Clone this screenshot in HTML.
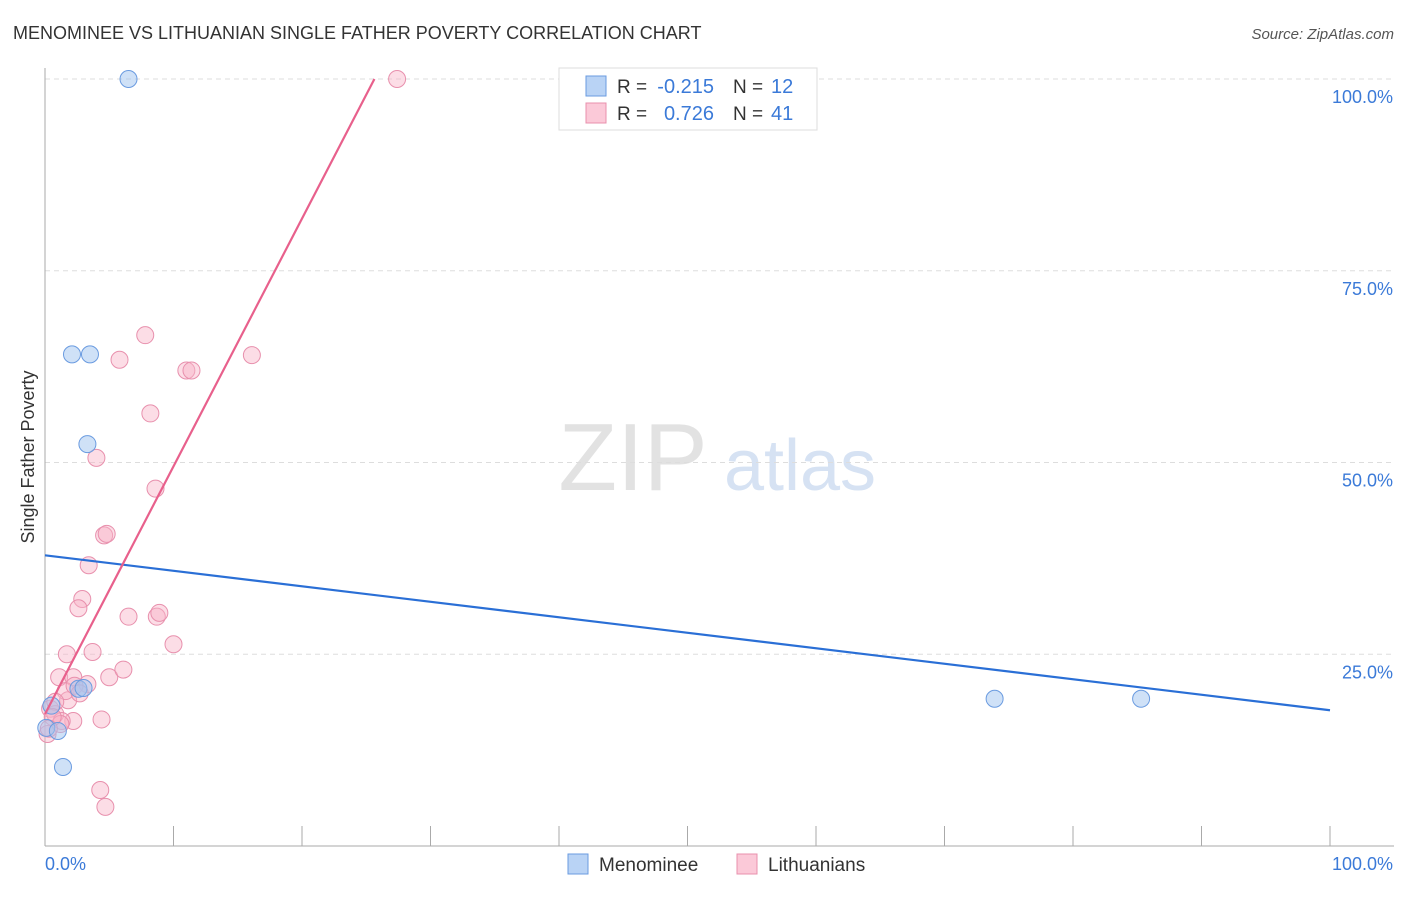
<!DOCTYPE html>
<html><head><meta charset="utf-8"><style>
body{margin:0;background:#fff;font-family:"Liberation Sans",sans-serif}
svg text{font-family:"Liberation Sans",sans-serif}
</style></head><body>
<svg id="c" width="1406" height="892"></svg>
<script>
const menX=[6.5,2.1,3.5,3.3,2.6,3.0,0.5,0.1,1.0,1.4,73.9,85.3];
const menY=[100,64.1,64.1,52.4,20.5,20.6,18.3,15.4,15.0,10.3,19.2,19.2];
const litX=[27.4,7.8,5.8,11.0,11.4,16.1,8.2,4.0,8.6,4.6,4.8,3.4,2.9,2.6,6.5,8.7,8.9,10.0,1.7,3.7,1.1,2.2,5.0,6.1,3.3,1.8,2.2,4.4,4.3,4.7,0.4,0.8,0.2,1.3,1.6,2.3,0.8,1.2,2.7,0.6,0.3];
const litY=[100,66.6,63.4,62.0,62.0,64.0,56.4,50.6,46.6,40.5,40.7,36.6,32.2,31.0,29.9,29.9,30.4,26.3,25.0,25.3,22.0,22.0,22.0,23.0,21.1,19.0,16.3,16.5,7.3,5.1,17.9,17.2,14.6,16.3,20.2,20.9,18.8,15.9,19.9,16.8,15.3];
const menLine=[37.9,17.7];// y at x=0, x=100
const litLine=[17.2,3.23];// intercept, slope per %
const yTicks=[25,50,75,100];
const X=v=>45+v*12.85, Y=v=>846-v*7.67;
const s=document.getElementById('c'),NS='http://www.w3.org/2000/svg';
function el(t,a,txt){const e=document.createElementNS(NS,t);for(const k in a)e.setAttribute(k,a[k]);if(txt!=null)e.textContent=txt;s.appendChild(e);return e;}
let e;
e=el('text',{x:13,y:39,'font-size':18,fill:'#333'},'MENOMINEE VS LITHUANIAN SINGLE FATHER POVERTY CORRELATION CHART');


e=el('text',{x:1394,y:39,'font-size':15,fill:'#555','text-anchor':'end','font-style':'italic'},'Source: ZipAtlas.com');


e=el('text',{x:633,y:490,'font-size':96,fill:'#e2e2e2','text-anchor':'middle','font-family':'Liberation Serif'},'ZIP');


e=el('text',{x:800,y:490,'font-size':72,fill:'#d6e2f3','text-anchor':'middle'},'atlas');


yTicks.forEach(t=>{
 e=el('line',{x1:45,x2:1394,y1:Y(t),y2:Y(t),stroke:'#ddd','stroke-dasharray':'5,4'});
 
 
 e=el('text',{x:1393,y:Y(t)+24,'font-size':18,fill:'#3b7ad8','text-anchor':'end'},t.toFixed(1)+'%');
 
 
});
e=el('line',{x1:45,x2:45,y1:68,y2:846,stroke:'#aaa'});


e=el('line',{x1:45,x2:1394,y1:846,y2:846,stroke:'#aaa'});


for(let i=0;i<=10;i++){e=el('line',{x1:X(i*10),x2:X(i*10),y1:826,y2:846,stroke:'#aaa'});
 
 }
e=el('text',{x:45,y:870,'font-size':18,fill:'#3b7ad8'},'0.0%');


e=el('text',{x:1393,y:870,'font-size':18,fill:'#3b7ad8','text-anchor':'end'},'100.0%');


e=el('text',{x:34,y:457,'font-size':18,fill:'#333','text-anchor':'middle',transform:'rotate(-90 34 457)'},'Single Father Poverty');


litX.forEach((x,i)=>{e=el('circle',{cx:X(x),cy:Y(litY[i]),r:8.5,fill:'rgba(248,180,200,0.45)',stroke:'#e890ad','stroke-width':1});
 
 });
menX.forEach((x,i)=>{e=el('circle',{cx:X(x),cy:Y(menY[i]),r:8.5,fill:'rgba(160,195,240,0.5)',stroke:'#6a9be0','stroke-width':1});
 
 });
e=el('line',{x1:X(0),y1:Y(menLine[0]),x2:X(100),y2:Y(menLine[1]),stroke:'#2a6fd6','stroke-width':2.2});


const xe=(100-litLine[0])/litLine[1];
e=el('line',{x1:X(0),y1:Y(litLine[0]),x2:X(xe),y2:Y(100),stroke:'#e8608c','stroke-width':2.2});


e=el('rect',{x:559,y:68,width:258,height:62,fill:'#fff',stroke:'#ddd'});


[[ '#b9d3f5','#6a9be0','-0.215','12',86],['#fbc9d8','#e890ad','0.726','41',113]].forEach(r=>{
 e=el('rect',{x:586,y:r[4]-10,width:20,height:20,fill:r[0],stroke:r[1]});
 
 
 e=el('text',{x:617,y:r[4]+7,'font-size':19,fill:'#333'},'R = ');
 
 
 e=el('text',{x:714,y:r[4]+7,'font-size':20,fill:'#3b7ad8','text-anchor':'end'},r[2]);
 
 
 e=el('text',{x:733,y:r[4]+7,'font-size':19,fill:'#333'},'N = ');
 
 
 e=el('text',{x:771,y:r[4]+7,'font-size':20,fill:'#3b7ad8'},r[3]);
 
 
});
[['#b9d3f5','#6a9be0','Menominee',568],['#fbc9d8','#e890ad','Lithuanians',737]].forEach(r=>{
 e=el('rect',{x:r[3],y:854,width:20,height:20,fill:r[0],stroke:r[1]});
 
 
 e=el('text',{x:r[3]+31,y:871,'font-size':19,fill:'#333'},r[2]);
 
 
});
</script>
</body></html>
